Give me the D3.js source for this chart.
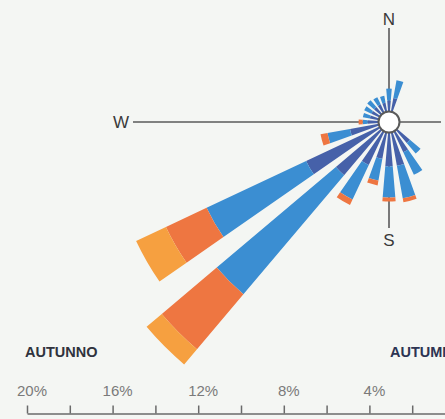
<!DOCTYPE html>
<html>
<head>
<meta charset="utf-8">
<script src="https://cdn.jsdelivr.net/npm/d3@7"></script>
<style>
html,body{margin:0;padding:0;background:#f4f6f3;}
svg{display:block;}
text{font-family:"Liberation Sans",Arial,sans-serif;}
</style>
</head>
<body>
<svg id="chart" width="445" height="419"></svg>
<script>
// Direction bins (degrees clockwise from North)
const directions = [0,15,30,45,60,75,90,105,120,135,150,165,180,195,210,225,240,255,270,285,300,315,330,345];
// Frequency (%) per speed class, stacked from the centre outwards
const speedLow   = [0.51,0.65,0,0,0,0,0,0,0,0.79,1.07,1.59,1.59,1.26,1.73,2.76,3.79,1.36,0.51,0.42,0.42,0.42,0.42,0.42];
const speedMid   = [0.56,0.84,0,0,0,0,0,0,0,0.65,1.17,1.54,1.45,1.03,1.78,7.29,5.14,1.07,0.23,0.33,0.37,0.42,0.37,0.33];
const speedHigh  = [0,0,0,0,0,0,0,0,0,0,0,0.19,0.19,0.23,0.28,3.36,2.10,0.33,0.19,0,0,0,0,0];
const speedMax   = [0,0,0,0,0,0,0,0,0,0,0,0,0,0,0,0.93,1.54,0,0,0,0,0,0,0];
const seriesColors = ["#4661a9","#3b8ed2","#ee7641","#f6a040"];
const scaleTicks = [20,18,16,14,12,10,8,6,4,2,0];
const scaleLabels = [20,16,12,8,4];
const compass = [{t:"N",a:0},{t:"S",a:180},{t:"W",a:270}];
const titleIt = "AUTUNNO", titleEn = "AUTUMN";

const svg = d3.select("#chart");
const W = 445, H = 419;
const cx = 389, cy = 122, r0 = 10.5;
const pxPerPct = 21.4;

svg.append("rect").attr("width",W).attr("height",H).attr("fill","#f4f6f3");

const rScale = d3.scaleLinear().domain([0,20]).range([r0, r0 + 20*pxPerPct]);

const table = directions.map((d,i)=>({dir:d, values:[speedLow[i],speedMid[i],speedHigh[i],speedMax[i]]}));
const stacked = d3.stack().keys([0,1,2,3]).value((d,k)=>d.values[k])(table);

const g = svg.append("g").attr("transform",`translate(${cx},${cy})`);

const lineCol = "#5a5a5a";
g.append("line").attr("x1",0).attr("y1",-r0).attr("x2",0).attr("y2",28-cy).attr("stroke",lineCol).attr("stroke-width",1.6);
g.append("line").attr("x1",0).attr("y1",r0).attr("x2",0).attr("y2",228-cy).attr("stroke",lineCol).attr("stroke-width",1.6);
g.append("line").attr("x1",-r0).attr("y1",0).attr("x2",133-cx).attr("y2",0).attr("stroke",lineCol).attr("stroke-width",1.6);
g.append("line").attr("x1",r0).attr("y1",0).attr("x2",441-cx).attr("y2",0).attr("stroke",lineCol).attr("stroke-width",1.6);

const half = 4.8*Math.PI/180;
const arc = d3.arc();
stacked.forEach((layer,k)=>{
  g.append("g").selectAll("path").data(layer.filter(d=>d[1]-d[0]>0)).join("path")
    .attr("d",d=>{
      const a = d.data.dir*Math.PI/180;
      return arc({innerRadius:rScale(d[0]),outerRadius:rScale(d[1]),startAngle:a-half,endAngle:a+half});
    })
    .attr("fill",seriesColors[k]);
});

g.append("circle").attr("r",r0).attr("fill","#ffffff").attr("stroke",lineCol).attr("stroke-width",2);

const labPos = {N:[389,25],S:[389,246],W:[121,128]};
compass.forEach(c=>{
  svg.append("text").attr("x",labPos[c.t][0]).attr("y",labPos[c.t][1])
    .attr("text-anchor","middle").attr("font-size",17).attr("fill","#3a3a3a").text(c.t);
});

svg.append("text").attr("x",25).attr("y",357).attr("font-size",14.5).attr("font-weight","bold").attr("fill","#30333d").text(titleIt);
svg.append("text").attr("x",390).attr("y",357).attr("font-size",14.5).attr("font-weight","bold").attr("fill","#2c3452").text(titleEn);

const xScale = d3.scaleLinear().domain([20,0]).range([27, 27 + 20*pxPerPct]);
const axis = d3.axisTop(xScale).tickValues(scaleTicks).tickSize(8).tickSizeOuter(0).tickFormat("");
const ax = svg.append("g").attr("transform","translate(0,413.5)").call(axis);
ax.selectAll("path,line").attr("stroke","#6a6a6a").attr("stroke-width",1.5);
svg.append("g").selectAll("text").data(scaleLabels).join("text")
  .attr("x",d=>xScale(d)+5).attr("y",396).attr("text-anchor","middle")
  .attr("font-size",15).attr("fill","#7a7a7a").text(d=>d+"%");
</script>
</body>
</html>
